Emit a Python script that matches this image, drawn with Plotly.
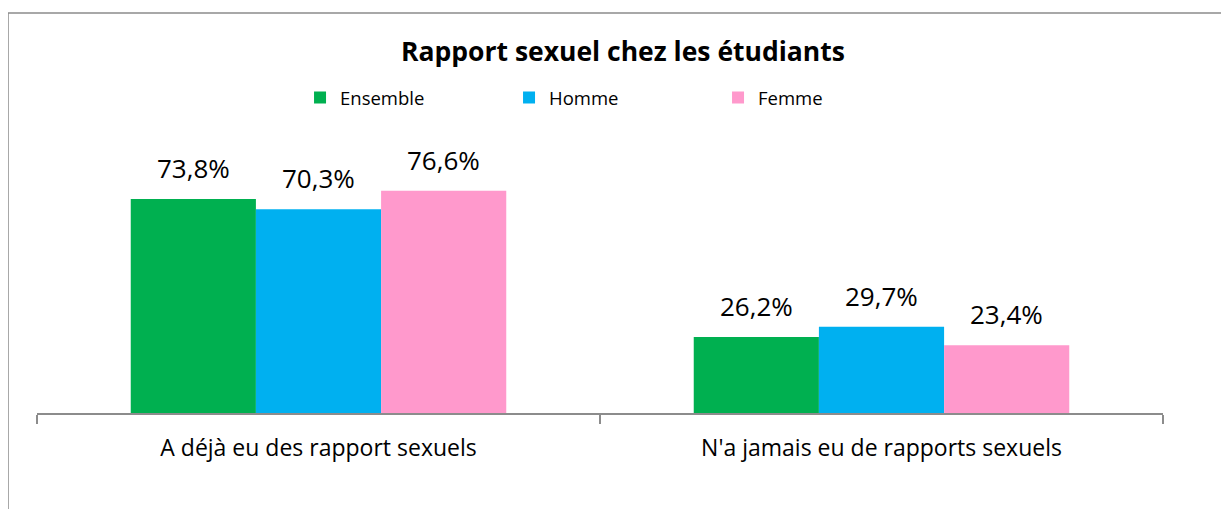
import plotly.graph_objects as go

categories = ["A déjà eu des rapport sexuels", "N'a jamais eu de rapports sexuels"]
series_names = ["Ensemble", "Homme", "Femme"]
ensemble = [73.8, 26.2]
homme = [70.3, 29.7]
femme = [76.6, 23.4]
colors = ["#00B050", "#00B0F0", "#FF99CC"]

values = [ensemble, homme, femme]
FONT = "Open Sans"

fig = go.Figure()
for name, vals, col in zip(series_names, values, colors):
    fig.add_trace(go.Bar(
        x=categories, y=vals, name=name,
        marker=dict(color=col, line=dict(width=0)),
        hoverinfo="skip",
    ))

# data labels
bar_px = 125
for i, vals in enumerate(values):
    for cat, v in zip(categories, vals):
        fig.add_annotation(
            x=cat, y=v, xref="x", yref="y",
            text=f"{v:.1f}".replace(".", ",") + "%",
            showarrow=False, yanchor="bottom", xanchor="center",
            xshift=(i - 1) * bar_px, yshift=11,
            font=dict(family=FONT, size=26, color="#000000"),
        )

# chart border
fig.add_shape(type="rect", xref="paper", yref="paper",
              x0=-0.02575, x1=1.08, y0=-0.45, y1=1.5326,
              line=dict(color="#8C8C8C", width=1.5), fillcolor="rgba(0,0,0,0)",
              layer="below")

fig.update_layout(
    width=1229, height=509,
    margin=dict(l=29, r=74, t=144, b=104),
    paper_bgcolor="white", plot_bgcolor="white",
    barmode="group", bargap=0.333, bargroupgap=0,
    title=dict(text="<b>Rapport sexuel chez les étudiants</b>",
               x=0.5204, xref="paper", xanchor="center",
               y=1 - 44 / 509, yanchor="middle",
               font=dict(family=FONT, size=26.5, color="#000000")),
    legend=dict(orientation="h", x=0.2336, xanchor="left",
                y=1.207, yanchor="middle",
                entrywidth=164, entrywidthmode="pixels",
                font=dict(family=FONT, size=18.5, color="#000000"),
                bgcolor="rgba(0,0,0,0)", traceorder="normal"),
    xaxis=dict(showline=True, linecolor="#8C8C8C", linewidth=1.5,
               ticks="outside", ticklen=9, tickcolor="#8C8C8C", tickwidth=1.5,
               tickson="boundaries", showgrid=False, zeroline=False,
               ticklabelstandoff=14,
               tickfont=dict(family=FONT, size=23, color="#000000")),
    yaxis=dict(range=[0, 90], visible=False, showgrid=False, zeroline=False),
    showlegend=True,
)

fig.write_html("out.html")
